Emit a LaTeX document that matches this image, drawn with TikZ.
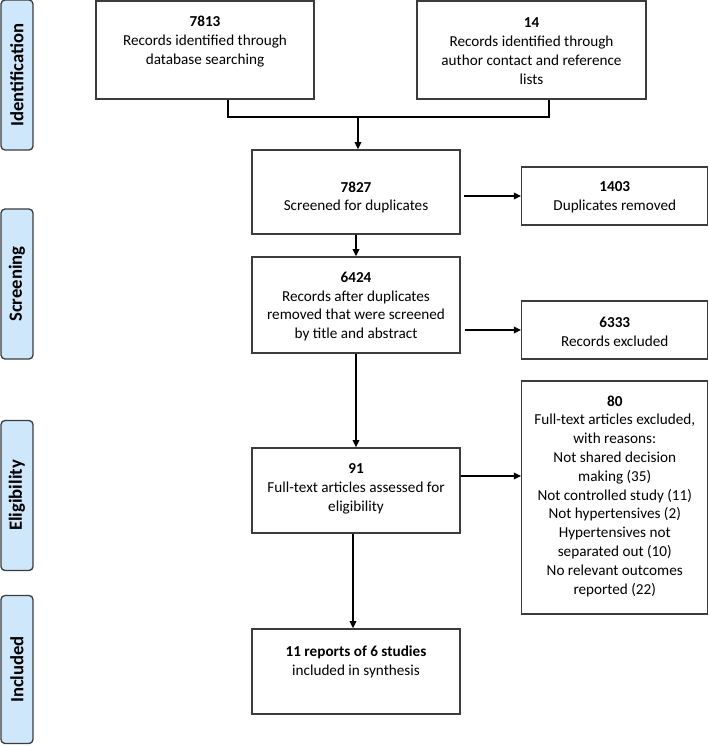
\documentclass[tikz,border=0pt]{standalone}
\usepackage{fontspec}
\setmainfont{Carlito}
\usetikzlibrary{arrows.meta}

\definecolor{stagefill}{RGB}{206,231,251}
\definecolor{boxline}{RGB}{60,60,60}

\tikzset{
  flowbox/.style={draw=boxline, line width=1pt, inner sep=0pt},
  boxtext/.style={align=center, inner sep=0pt, font=\fontsize{11.4pt}{14.1pt}\selectfont},
  stage/.style={draw=boxline, line width=1pt, fill=stagefill, rounded corners=3pt, rotate=90,
    minimum height=24pt, inner sep=0pt, font=\fontsize{14pt}{16pt}\selectfont\bfseries},
  link/.style={draw=black, line width=1pt},
  arrow/.style={link, -{Triangle[length=5.5pt,width=5pt]}},
}

\begin{document}
\begin{tikzpicture}[x=0.75pt,y=-0.75pt]
  \useasboundingbox (0,0) rectangle (709,746);

  % Stages
  \node[stage, minimum width=112.5pt] (sIdent) at (17,75) {Identification};
  \node[stage, minimum width=112.5pt] (sScreen) at (17,284) {Screening};
  \node[stage, minimum width=112.5pt] (sElig) at (17,495.5) {Eligibility};
  \node[stage, minimum width=111pt] (sIncl) at (17,669.5) {Included};

  % Identification
  \node[flowbox, minimum width=163.5pt, minimum height=73.5pt] (db) at (205,50) {};
  \node[boxtext, yshift=6.4pt] (tDb) at (db.center) {\textbf{7813}\\Records identified through\\database searching};
  \node[flowbox, minimum width=171.75pt, minimum height=73.5pt] (other) at (531.5,50) {};
  \node[boxtext, yshift=-0.75pt] (tOther) at (other.center) {\textbf{14}\\Records identified through\\author contact and reference\\lists};

  % Screening
  \node[flowbox, minimum width=156pt, minimum height=63pt] (dup) at (356,192) {};
  \node[boxtext, yshift=-4.1pt] (tDup) at (dup.center) {\textbf{7827}\\Screened for duplicates};
  \node[flowbox, minimum width=139.5pt, minimum height=43.5pt] (dupOut) at (614.75,196) {};
  \node[boxtext, yshift=-1.1pt] (tDupOut) at (dupOut.center) {\textbf{1403}\\Duplicates removed};
  \node[flowbox, minimum width=156pt, minimum height=72pt] (scr) at (356,305) {};
  \node[boxtext, yshift=-1.1pt] (tScr) at (scr.center) {\textbf{6424}\\Records after duplicates\\removed that were screened\\by title and abstract};
  \node[flowbox, minimum width=139.5pt, minimum height=43.5pt] (scrOut) at (614.75,330) {};
  \node[boxtext, yshift=-1.1pt] (tScrOut) at (scrOut.center) {\textbf{6333}\\Records excluded};

  % Eligibility
  \node[flowbox, minimum width=156pt, minimum height=63.75pt] (elig) at (356,490.5) {};
  \node[boxtext, yshift=1.1pt] (tElig) at (elig.center) {\textbf{91}\\Full-text articles assessed for\\eligibility};
  \node[flowbox, minimum width=139.5pt, minimum height=174.75pt] (eligOut) at (614.75,497.5) {};
  \node[boxtext, yshift=1.1pt] (tEligOut) at (eligOut.center) {\textbf{80}\\Full-text articles excluded,\\with reasons:\\Not shared decision\\making (35)\\Not controlled study (11)\\Not hypertensives (2)\\Hypertensives not\\separated out (10)\\No relevant outcomes\\reported (22)};

  % Included
  \node[flowbox, minimum width=156pt, minimum height=63.75pt] (incl) at (356,671.5) {};
  \node[boxtext, yshift=7.5pt] (tIncl) at (incl.center) {\textbf{11 reports of 6 studies}\\included in synthesis};

  % Connectors
  \coordinate (join) at (358,117);
  \draw[link] ([xshift=17.25pt]db.south) |- (join) -| ([xshift=13.1pt]other.south);
  \draw[arrow] (join) -- (join |- dup.north);
  \draw[arrow] ([xshift=2.25pt]dupOut.west -| dup.east) -- (dupOut.west);
  \draw[arrow] (dup.south) -- (scr.north);
  \draw[arrow] ([xshift=3pt]scrOut.west -| scr.east) -- (scrOut.west);
  \draw[arrow] (scr.south) -- (elig.north);
  \draw[arrow] ([yshift=10.9pt]elig.east) -- ([yshift=10.9pt]elig.east -| eligOut.west);
  \draw[arrow] ([xshift=-2.25pt]elig.south) -- ([xshift=-2.25pt]incl.north);
\end{tikzpicture}
\end{document}
